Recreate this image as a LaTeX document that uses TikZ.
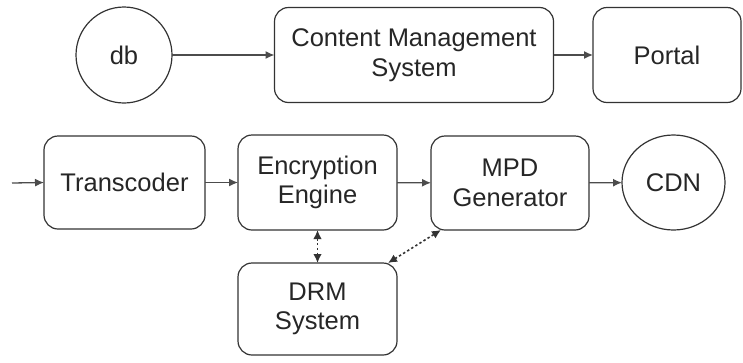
\documentclass[tikz,border=0pt]{standalone}
\usepackage{fontspec}
\setmainfont{Liberation Sans}
\usetikzlibrary{arrows.meta,shapes.geometric}
\begin{document}
\begin{tikzpicture}[x=1pt,y=-1pt,
  every node/.style={inner sep=0pt,outer sep=0pt,text=black!85,font=\fontsize{25.5}{29.5}\selectfont,align=center},
  box/.style={draw=black!80,line width=1.2pt,rounded corners=14pt,rectangle},
  circ/.style={draw=black!80,line width=1.2pt,circle},
  oval/.style={draw=black!80,line width=1.2pt,ellipse},
  conn/.style={draw=black!70,line width=1.3pt,-{Latex[length=9pt,width=8pt]}},
  dotconn/.style={draw=black!80,line width=1.6pt,dash pattern=on 2.4pt off 2.4pt,{Latex[length=9pt,width=8.5pt]}-{Latex[length=9pt,width=8.5pt]}}]
\useasboundingbox (0,0) rectangle (743,362);
\node[circ,minimum size=96pt] (db) at (124,55) {db};
\node[box,minimum width=279pt,minimum height=95pt] (cms) at (414,55) {Content Management\\System};
\node[box,minimum width=148pt,minimum height=95pt] (portal) at (667,55) {Portal};
\coordinate (in) at (12,183);
\node[box,minimum width=161pt,minimum height=93pt] (trans) at (124.5,182.5) {Transcoder};
\node[box,minimum width=159pt,minimum height=95pt] (enc) at (317.5,182.5) {Encryption\\Engine};
\node[box,minimum width=158pt,minimum height=94pt] (mpd) at (510,183) {MPD\\Generator};
\node[oval,minimum width=103pt,minimum height=95pt] (cdn) at (673.5,182.5) {CDN};
\node[box,minimum width=159pt,minimum height=92pt] (drm) at (317.5,309) {DRM\\System};
\draw[conn] (db) -- (cms);
\draw[conn] (cms) -- (portal);
\draw[conn] (in) -- (trans.west);
\draw[conn] (trans) -- (enc);
\draw[conn] (enc) -- (mpd);
\draw[conn] (mpd) -- (cdn);
\draw[dotconn] (enc.south) -- (drm.north);
\draw[dotconn] ([xshift=-9pt]drm.north east) -- ([xshift=10pt]mpd.south west);
\end{tikzpicture}
\end{document}
